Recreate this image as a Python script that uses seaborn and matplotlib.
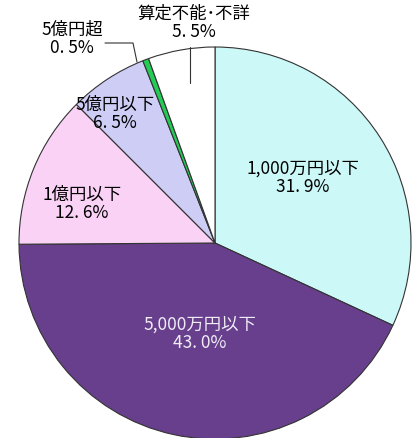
import matplotlib.pyplot as plt
import seaborn as sns

# データ
labels = ["1,000万円以下", "5,000万円以下", "1億円以下", "5億円以下", "5億円超", "算定不能･不詳"]
shares = [31.9, 43.0, 12.6, 6.5, 0.5, 5.5]
pct_text = ["31. 9%", "43. 0%", "12. 6%", "6. 5%", "0. 5%", "5. 5%"]
colors = ["#ccf8f8", "#673f8c", "#fad2f6", "#cdcdf6", "#22cc55", "#ffffff"]

sns.set_theme(style="white")
plt.rcParams["font.family"] = ["Noto Sans CJK JP", "DejaVu Sans"]

W, H = 419, 438
fig = plt.figure(figsize=(W / 100, H / 100), dpi=100)
ax = fig.add_axes([0, 0, 1, 1])

cx, cy, r = 215, H - 243, 196
ax.pie(shares, colors=colors, startangle=90, counterclock=False,
       center=(cx, cy), radius=r,
       wedgeprops=dict(edgecolor="#333333", linewidth=0.8))
ax.set_xlim(0, W)
ax.set_ylim(0, H)
ax.axis("off")

# ラベル位置 (ピクセル, 上から)
pos = [(303, 178), (200, 334), (82, 204), (115, 114), (72, 39), (194, 23)]
txt_colors = ["black", "#f0ecf6", "black", "black", "black", "black"]
for (x, y), lab, p, c in zip(pos, labels, pct_text, txt_colors):
    ax.text(x, H - y, f"{lab}\n{p}", ha="center", va="center", fontsize=12.5,
            color=c, linespacing=1.05)

# 引き出し線
ax.plot([105, 133, 137], [H - 43, H - 43, H - 62], color="#333333", lw=0.8)
ax.plot([190, 190], [H - 47, H - 83], color="#333333", lw=0.8)

fig.savefig("out.png", dpi=100)
